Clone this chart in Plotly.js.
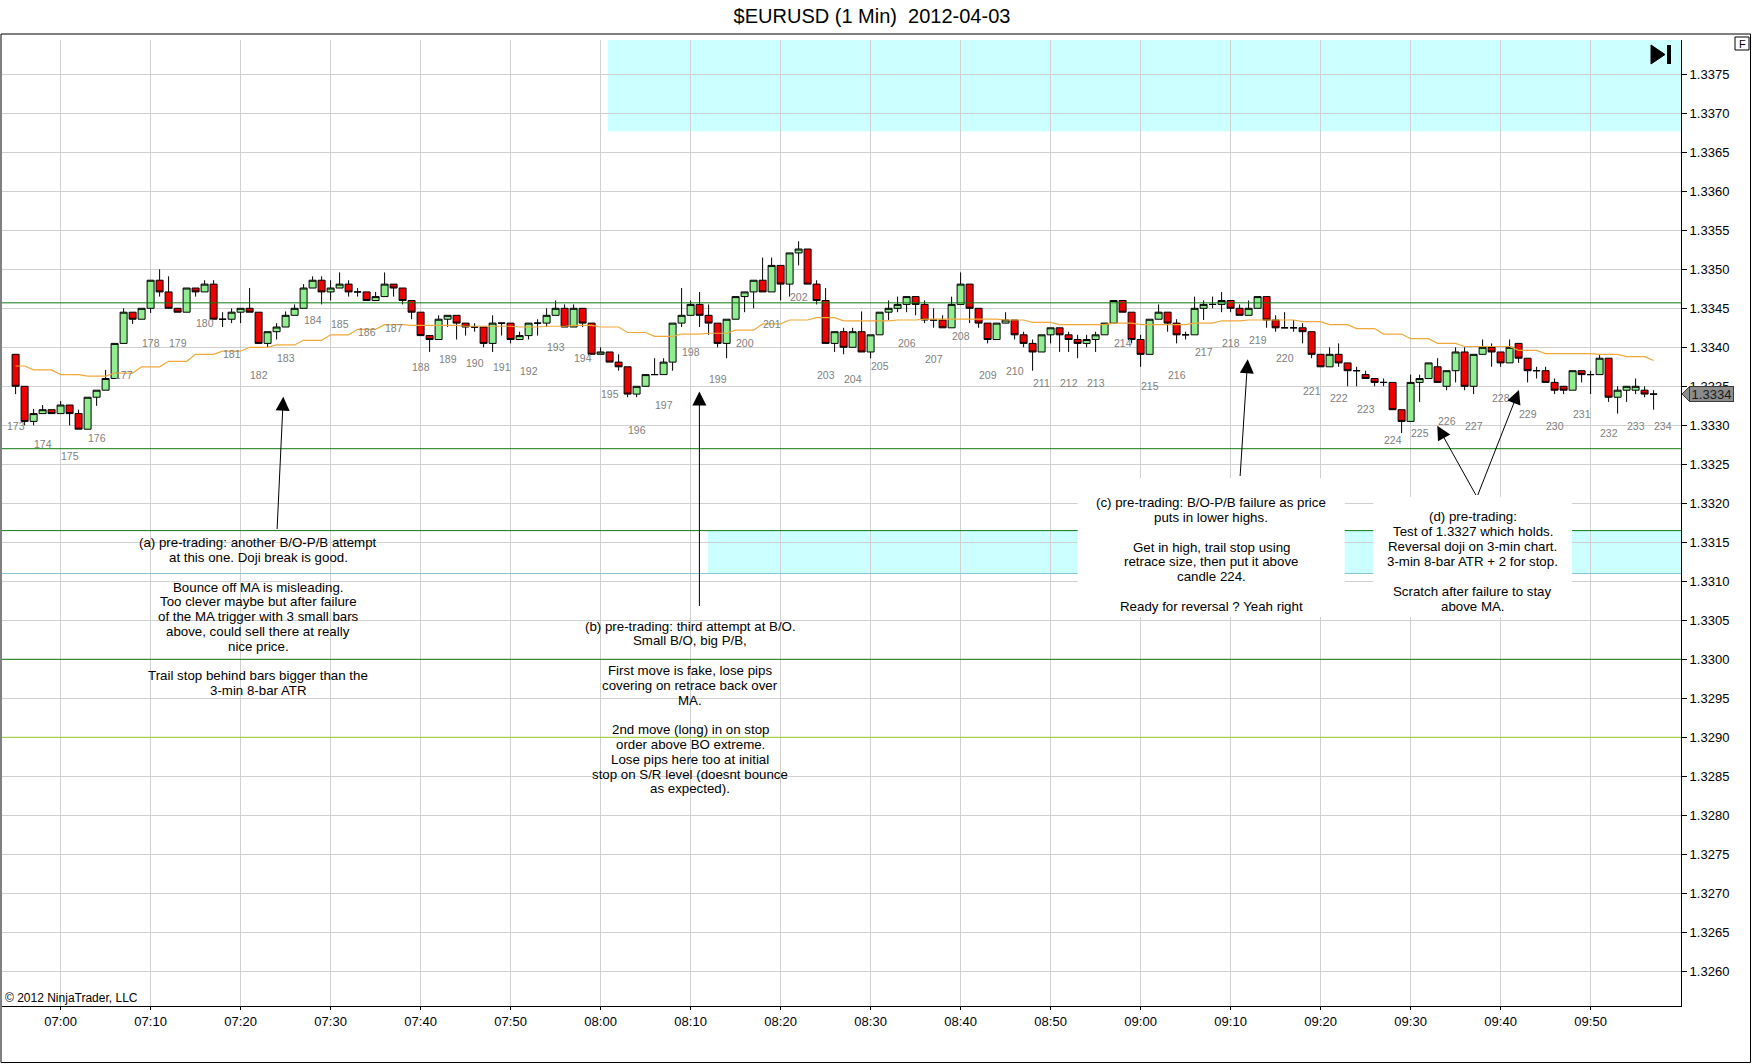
<!DOCTYPE html>
<html><head><meta charset="utf-8">
<script src="https://cdn.plot.ly/plotly-3.0.1.min.js"></script>
<style>html,body{margin:0;padding:0;background:#fff}</style>
</head><body><div id="chart" style="width:1752px;height:1064px"></div>
<script>
// ---------- DATA ----------
const firstBarMinute = -5; // 06:55, minutes relative to 07:00
const opens = [
1.33391,1.33350,1.33305,1.33315,1.33320,1.33315,1.33326,1.33315,1.33295,1.33336,
1.33345,1.33360,1.33405,1.33445,1.33436,1.33450,1.33486,1.33471,1.33450,1.33445,
1.33476,1.33471,1.33481,1.33436,1.33436,1.33445,1.33450,1.33445,1.33405,1.33420,
1.33426,1.33441,1.33450,1.33476,1.33486,1.33471,1.33476,1.33481,1.33471,1.33471,
1.33460,1.33465,1.33481,1.33476,1.33460,1.33445,1.33415,1.33410,1.33436,1.33441,
1.33431,1.33426,1.33426,1.33405,1.33431,1.33431,1.33410,1.33415,1.33431,1.33431,
1.33441,1.33450,1.33426,1.33450,1.33431,1.33391,1.33394,1.33381,1.33375,1.33340,
1.33350,1.33365,1.33365,1.33381,1.33431,1.33441,1.33455,1.33441,1.33431,1.33405,
1.33436,1.33465,1.33471,1.33486,1.33471,1.33505,1.33481,1.33521,1.33526,1.33481,
1.33460,1.33405,1.33420,1.33400,1.33420,1.33394,1.33416,1.33445,1.33450,1.33455,
1.33465,1.33455,1.33435,1.33435,1.33425,1.33455,1.33481,1.33450,1.33431,1.33410,
1.33431,1.33435,1.33416,1.33405,1.33394,1.33416,1.33425,1.33416,1.33410,1.33405,
1.33410,1.33416,1.33431,1.33460,1.33445,1.33410,1.33391,1.33436,1.33445,1.33431,
1.33416,1.33416,1.33450,1.33455,1.33455,1.33460,1.33450,1.33441,1.33450,1.33465,
1.33435,1.33425,1.33425,1.33425,1.33420,1.33391,1.33375,1.33391,1.33380,1.33370,
1.33365,1.33360,1.33355,1.33355,1.33320,1.33305,1.33355,1.33360,1.33375,1.33350,
1.33370,1.33394,1.33350,1.33391,1.33400,1.33394,1.33380,1.33405,1.33386,1.33370,
1.33370,1.33355,1.33350,1.33345,1.33370,1.33365,1.33365,1.33386,1.33336,1.33345,
1.33345,1.33345,1.33340];
const highs = [
1.33391,1.33350,1.33321,1.33326,1.33320,1.33331,1.33326,1.33320,1.33336,1.33345,
1.33371,1.33405,1.33450,1.33445,1.33450,1.33486,1.33500,1.33491,1.33450,1.33476,
1.33476,1.33486,1.33486,1.33445,1.33450,1.33450,1.33476,1.33445,1.33420,1.33431,
1.33446,1.33455,1.33481,1.33491,1.33491,1.33486,1.33496,1.33486,1.33476,1.33471,
1.33471,1.33496,1.33481,1.33476,1.33460,1.33445,1.33415,1.33441,1.33441,1.33441,
1.33431,1.33431,1.33426,1.33441,1.33431,1.33431,1.33420,1.33431,1.33436,1.33450,
1.33460,1.33455,1.33455,1.33450,1.33431,1.33400,1.33394,1.33391,1.33375,1.33350,
1.33365,1.33386,1.33386,1.33431,1.33476,1.33460,1.33471,1.33455,1.33431,1.33436,
1.33465,1.33471,1.33486,1.33515,1.33515,1.33505,1.33521,1.33536,1.33526,1.33486,
1.33476,1.33420,1.33425,1.33425,1.33446,1.33416,1.33445,1.33460,1.33465,1.33465,
1.33465,1.33460,1.33450,1.33441,1.33465,1.33496,1.33481,1.33450,1.33431,1.33431,
1.33445,1.33435,1.33420,1.33410,1.33416,1.33425,1.33425,1.33420,1.33416,1.33416,
1.33420,1.33431,1.33460,1.33460,1.33445,1.33416,1.33436,1.33455,1.33445,1.33436,
1.33420,1.33465,1.33460,1.33465,1.33471,1.33460,1.33455,1.33460,1.33465,1.33465,
1.33441,1.33445,1.33435,1.33431,1.33420,1.33391,1.33400,1.33405,1.33380,1.33375,
1.33370,1.33360,1.33360,1.33355,1.33320,1.33365,1.33365,1.33380,1.33386,1.33370,
1.33400,1.33400,1.33391,1.33410,1.33405,1.33394,1.33410,1.33405,1.33386,1.33375,
1.33375,1.33360,1.33350,1.33370,1.33370,1.33370,1.33391,1.33386,1.33350,1.33350,
1.33360,1.33350,1.33345];
const lows = [
1.33340,1.33300,1.33300,1.33315,1.33315,1.33315,1.33300,1.33295,1.33295,1.33325,
1.33345,1.33360,1.33405,1.33430,1.33436,1.33444,1.33465,1.33450,1.33445,1.33445,
1.33465,1.33471,1.33436,1.33426,1.33431,1.33431,1.33445,1.33405,1.33400,1.33410,
1.33426,1.33441,1.33450,1.33476,1.33455,1.33460,1.33476,1.33465,1.33465,1.33460,
1.33460,1.33465,1.33465,1.33455,1.33436,1.33415,1.33394,1.33410,1.33426,1.33410,
1.33415,1.33420,1.33400,1.33394,1.33415,1.33405,1.33410,1.33410,1.33415,1.33426,
1.33441,1.33426,1.33426,1.33426,1.33391,1.33391,1.33381,1.33370,1.33336,1.33336,
1.33350,1.33365,1.33365,1.33370,1.33426,1.33441,1.33426,1.33416,1.33400,1.33386,
1.33436,1.33445,1.33450,1.33471,1.33471,1.33460,1.33465,1.33505,1.33481,1.33455,
1.33405,1.33394,1.33391,1.33400,1.33394,1.33386,1.33416,1.33435,1.33445,1.33445,
1.33441,1.33431,1.33425,1.33425,1.33425,1.33455,1.33431,1.33425,1.33405,1.33410,
1.33431,1.33410,1.33400,1.33370,1.33394,1.33405,1.33394,1.33394,1.33386,1.33400,
1.33394,1.33416,1.33431,1.33445,1.33405,1.33375,1.33391,1.33436,1.33420,1.33405,
1.33410,1.33416,1.33435,1.33450,1.33445,1.33445,1.33441,1.33441,1.33450,1.33425,
1.33420,1.33425,1.33420,1.33405,1.33386,1.33375,1.33375,1.33375,1.33350,1.33350,
1.33360,1.33350,1.33350,1.33320,1.33290,1.33305,1.33330,1.33360,1.33355,1.33345,
1.33355,1.33345,1.33340,1.33391,1.33375,1.33375,1.33380,1.33380,1.33355,1.33360,
1.33355,1.33340,1.33340,1.33345,1.33355,1.33340,1.33365,1.33330,1.33315,1.33330,
1.33340,1.33336,1.33320];
const closes = [
1.33350,1.33305,1.33315,1.33320,1.33315,1.33326,1.33315,1.33295,1.33336,1.33345,
1.33360,1.33405,1.33445,1.33436,1.33450,1.33486,1.33471,1.33450,1.33445,1.33476,
1.33471,1.33481,1.33436,1.33436,1.33445,1.33450,1.33445,1.33405,1.33420,1.33426,
1.33441,1.33450,1.33476,1.33486,1.33471,1.33476,1.33481,1.33471,1.33471,1.33460,
1.33465,1.33481,1.33476,1.33460,1.33445,1.33415,1.33410,1.33436,1.33441,1.33431,
1.33426,1.33426,1.33405,1.33431,1.33431,1.33410,1.33415,1.33431,1.33431,1.33441,
1.33450,1.33426,1.33450,1.33431,1.33391,1.33394,1.33381,1.33375,1.33340,1.33350,
1.33365,1.33365,1.33381,1.33431,1.33441,1.33455,1.33441,1.33431,1.33405,1.33436,
1.33465,1.33471,1.33486,1.33471,1.33505,1.33481,1.33521,1.33526,1.33481,1.33460,
1.33405,1.33420,1.33400,1.33420,1.33394,1.33416,1.33445,1.33450,1.33455,1.33465,
1.33455,1.33435,1.33435,1.33425,1.33455,1.33481,1.33450,1.33431,1.33410,1.33431,
1.33435,1.33416,1.33405,1.33394,1.33416,1.33425,1.33416,1.33410,1.33405,1.33410,
1.33416,1.33431,1.33460,1.33445,1.33410,1.33391,1.33436,1.33445,1.33431,1.33416,
1.33416,1.33450,1.33455,1.33455,1.33460,1.33450,1.33441,1.33450,1.33465,1.33435,
1.33425,1.33425,1.33425,1.33420,1.33391,1.33375,1.33391,1.33380,1.33370,1.33370,
1.33360,1.33355,1.33355,1.33320,1.33305,1.33355,1.33360,1.33380,1.33355,1.33370,
1.33394,1.33350,1.33391,1.33400,1.33394,1.33380,1.33400,1.33386,1.33370,1.33370,
1.33355,1.33345,1.33345,1.33370,1.33365,1.33365,1.33386,1.33336,1.33345,1.33350,
1.33350,1.33340,1.33340];

// 3-minute bar numbers, their label heights and the 3-min moving average
const barNumbers = [];
for (let n = 173; n <= 234; n++) barNumbers.push(n);
const barLabelPrices = [
1.33299,1.33276,1.33261,1.33284,1.33365,1.33405,1.33405,1.33431,1.33391,1.33365,
1.33386,1.33435,1.33430,1.33420,1.33425,1.33375,1.33385,1.33380,1.33375,1.33370,
1.33400,1.33386,1.33340,1.33294,1.33326,1.33394,1.33360,1.33405,1.33430,1.33465,
1.33365,1.33360,1.33376,1.33405,1.33385,1.33415,1.33365,1.33370,1.33354,1.33354,
1.33354,1.33405,1.33350,1.33365,1.33394,1.33405,1.33410,1.33386,1.33344,1.33335,
1.33321,1.33281,1.33290,1.33305,1.33299,1.33335,1.33315,1.33299,1.33315,1.33290,
1.33299,1.33299];
const ma3 = [
1.33376,1.33371,1.33365,1.33363,1.33367,1.33375,1.33382,1.33391,1.33395,1.33400,
1.33403,1.33409,1.33416,1.33423,1.33429,1.33428,1.33428,1.33427,1.33427,1.33426,
1.33427,1.33428,1.33426,1.33419,1.33414,1.33417,1.33418,1.33422,1.33430,1.33435,
1.33438,1.33434,1.33434,1.33435,1.33436,1.33436,1.33436,1.33435,1.33432,1.33429,
1.33429,1.33431,1.33429,1.33429,1.33431,1.33434,1.33435,1.33435,1.33433,1.33429,
1.33424,1.33417,1.33411,1.33405,1.33401,1.33401,1.33396,1.33392,1.33392,1.33391,
1.33388,1.33383];

// drawn horizontal levels
const levelGreenHigh = 1.33457;
const levelTest = 1.3327;
const zoneTop = 1.33165;
const zoneBottom = 1.3311;
const level1300 = 1.3300;
const level1290 = 1.3290;
const upperZoneBottom = 1.33677;
const lastPrice = 1.3334;

const yTickValues = [];
for (let i = 0; i <= 23; i++) yTickValues.push(+(1.3260 + i * 0.0005).toFixed(4));
const xTickLabels = ['07:00','07:10','07:20','07:30','07:40','07:50','08:00','08:10','08:20',
  '08:30','08:40','08:50','09:00','09:10','09:20','09:30','09:40','09:50'];

const titleText = '$EURUSD (1 Min)\u00A0 2012-04-03';
const noteA = ["(a) pre-trading: another B/O-P/B attempt","at this one. Doji break is good.","","Bounce off MA is misleading.","Too clever maybe but after failure","of the MA trigger with 3 small bars","above, could sell there at really","nice price.","","Trail stop behind bars bigger than the","3-min 8-bar ATR"];
const noteB = ["(b) pre-trading: third attempt at B/O.","Small B/O, big P/B,","","First move is fake, lose pips","covering on retrace back over","MA.","","2nd move (long) in on stop","order above BO extreme.","Lose pips here too at initial","stop on S/R level (doesnt bounce","as expected)."];
const noteC = ["(c) pre-trading: B/O-P/B failure as price","puts in lower highs.","","Get in high, trail stop using","retrace size, then put it above","candle 224.","","Ready for reversal ? Yeah right"];
const noteD = ["(d) pre-trading:","Test of 1.3327 which holds.","Reversal doji on 3-min chart.","3-min 8-bar ATR + 2 for stop.","","Scratch after failure to stay","above MA."];

// ---------- LAYOUT HELPERS ----------
const W = 1752, H = 1064;
const L = 2, R = 1681, T = 40, B = 1006;
function pad(n){ return String(n).padStart(2,'0'); }
function timeAt(m){ // minutes relative to 07:00
  let s = 7*3600 + m*60;
  const h = Math.floor(s/3600); s -= h*3600;
  const mi = Math.floor(s/60); s -= mi*60;
  return '2012-04-03 ' + pad(h) + ':' + pad(mi) + ':' + s.toFixed(3).padStart(6,'0');
}
const pxPerMin = 9.0, x0700 = 60.6;
const y1335 = 269.3, pxPerUnit = 78000;
function minAtPx(X){ return (X - x0700)/pxPerMin; }
function priceAtPx(Y){ return 1.3350 - (Y - y1335)/pxPerUnit; }
function px(X){ return (X - L)/(R - L); }
function py(Y){ return (B - Y)/(B - T); }

const times = closes.map((_, i) => timeAt(firstBarMinute + i));
const maY = closes.map((_, i) => ma3[Math.floor((firstBarMinute + i + 6)/3)]);

const xRange = [timeAt(minAtPx(L)), timeAt(minAtPx(R))];
const yRange = [priceAtPx(B), priceAtPx(T)];

const FONT = 'Liberation Sans, Arial, sans-serif';

const traces = [
  {type:'candlestick', x: times, open: opens, high: highs, low: lows, close: closes,
   increasing:{line:{color:'#000000', width:1}, fillcolor:'#90ee90'},
   decreasing:{line:{color:'#000000', width:1}, fillcolor:'#ee0000'},
   whiskerwidth:0, showlegend:false, hoverinfo:'skip'},
  {type:'scatter', mode:'lines', x: times, y: maY, line:{color:'#f2a93b', width:1.2},
   showlegend:false, hoverinfo:'skip'}
];

const shapes = [];
// cyan zones (under grid)
shapes.push({type:'rect', layer:'below', xref:'x', yref:'y', x0: timeAt(minAtPx(607.8)), x1: xRange[1],
  y0: upperZoneBottom, y1: yRange[1], fillcolor:'#ccffff', line:{width:0}});
shapes.push({type:'rect', layer:'below', xref:'x', yref:'y', x0: timeAt(minAtPx(708)), x1: xRange[1],
  y0: zoneBottom, y1: zoneTop, fillcolor:'#ccffff', line:{width:0}});
// white boxes of notes (a),(b): over grid, under the lines
function whiteBox(x0,x1,y0,y1,layer){
  shapes.push({type:'rect', layer: layer, xref:'paper', yref:'paper', x0:px(x0), x1:px(x1), y0:py(y1), y1:py(y0),
    fillcolor:'#ffffff', line:{width:0}});
}
whiteBox(121, 393.5, 531, 698, 'between');
whiteBox(570, 811, 608, 800, 'between');
// horizontal drawn lines
function hline(y, color){
  shapes.push({type:'line', layer:'above', xref:'x', yref:'y', x0:xRange[0], x1:xRange[1], y0:y, y1:y,
    line:{color: color, width:1}});
}
hline(levelGreenHigh, '#117a11');
hline(levelTest, '#117a11');
hline(zoneTop, '#117a11');
hline(zoneBottom, '#86c6d8');
hline(level1300, '#117a11');
hline(level1290, '#9acd32');
// white boxes of notes (c),(d): above the lines
whiteBox(1077.7, 1344.7, 478, 617, 'above');
whiteBox(1373.3, 1571.9, 497, 617, 'above');
// outer frame
shapes.push({type:'rect', layer:'above', xref:'paper', yref:'paper', x0:px(1), x1:px(1750.5), y0:py(1062.5), y1:py(34),
  line:{color:'#000', width:1}, fillcolor:'rgba(0,0,0,0)'});
// last price tag pointer
shapes.push({type:'path', layer:'above', xref:'paper', yref:'paper',
  path:`M${px(1690)},${py(386)} L${px(1682)},${py(394)} L${px(1690)},${py(402)} Z`,
  fillcolor:'#8c8c8c', line:{color:'#3a3a3a', width:1}});
// "go to end" icon
shapes.push({type:'path', layer:'above', xref:'paper', yref:'paper',
  path:`M${px(1651)},${py(45)} L${px(1665)},${py(54.5)} L${px(1651)},${py(64)} Z`,
  fillcolor:'#000', line:{color:'#000', width:1}});
shapes.push({type:'rect', layer:'above', xref:'paper', yref:'paper', x0:px(1667), x1:px(1671), y0:py(64), y1:py(45),
  fillcolor:'#000', line:{width:0}});
// "F" box
shapes.push({type:'rect', layer:'above', xref:'paper', yref:'paper', x0:px(1735), x1:px(1749), y0:py(50), y1:py(37),
  fillcolor:'#fff', line:{color:'#000', width:1}});

const annotations = [];
// bar numbers
barNumbers.forEach((n, k) => {
  annotations.push({xref:'x', yref:'y', x: timeAt(firstBarMinute + 3*k), y: barLabelPrices[k], text: String(n),
    showarrow:false, xanchor:'center', yanchor:'middle', font:{family:FONT, size:10.5, color:'#808080'}});
});
// notes
function note(lines, cx, y0, pitch){
  lines.forEach((t, i) => {
    if (!t) return;
    annotations.push({xref:'paper', yref:'paper', x:px(cx), y:py(y0 + i*pitch), text:t, showarrow:false,
      xanchor:'center', yanchor:'middle', font:{family:FONT, size:13.3, color:'#000'}});
  });
}
note(noteA, 258.2, 542.7, 14.8);
note(noteB, 690.3, 626, 14.8);
note(noteC, 1211.4, 502.7, 14.8);
note(noteD, 1472.6, 516.7, 14.9);
// arrows (tip, tail in screen px)
function arrow(tx, ty, sx, sy){
  annotations.push({xref:'paper', yref:'paper', x:px(tx), y:py(ty), axref:'pixel', ayref:'pixel',
    ax: sx - tx, ay: sy - ty, text:' ', font:{size:1}, showarrow:true, arrowhead:2, arrowsize:2.8,
    arrowwidth:1, arrowcolor:'#000', standoff:0, startstandoff:0});
}
arrow(283.3, 396.7, 277, 531);
arrow(699.4, 391.5, 699.4, 608);
arrow(1247.7, 359.3, 1240, 478);
arrow(1519, 390, 1477, 497);
arrow(1437.3, 425.7, 1477, 497);
// last price tag body (drawn over the axis labels like the reference), F, copyright
annotations.push({xref:'paper', yref:'paper', x:px(1689.5), y:py(394), text: lastPrice.toFixed(4), showarrow:false,
  xanchor:'left', yanchor:'middle', width:41, height:12, borderpad:1, align:'center',
  bgcolor:'#8c8c8c', bordercolor:'#3a3a3a', borderwidth:1,
  font:{family:FONT, size:13, color:'#1a1a1a'}});
annotations.push({xref:'paper', yref:'paper', x:px(1742), y:py(43.5), text:'F', showarrow:false,
  xanchor:'center', yanchor:'middle', font:{family:FONT, size:11, color:'#000'}});
annotations.push({xref:'paper', yref:'paper', x:px(3.4), y:py(997.7), text:'\u00A9 2012 NinjaTrader, LLC', showarrow:false,
  xanchor:'left', yanchor:'middle', font:{family:FONT, size:12, color:'#000'}});

const layout = {
  width: W, height: H,
  margin: {l: L, r: W - R, t: T, b: H - B, pad: 0},
  paper_bgcolor:'#ffffff', plot_bgcolor:'#ffffff',
  font:{family:FONT, size:13, color:'#000'},
  boxgap: 0.12, boxgroupgap: 0.12,
  title:{text: titleText, x: 872/W, xref:'container', xanchor:'center', y: 1 - 16/H, yref:'container', yanchor:'middle',
    font:{family:FONT, size:20, color:'#000'}},
  showlegend:false, hovermode:false,
  xaxis:{type:'date', range:xRange, rangeslider:{visible:false}, tickmode:'array',
    tickvals: xTickLabels.map(t => '2012-04-03 ' + t + ':00'), ticktext: xTickLabels,
    showgrid:true, gridcolor:'#d0d0d0', gridwidth:1,
    showline:true, linecolor:'#000', linewidth:1, ticks:'outside', ticklen:3, tickcolor:'#000',
    tickfont:{family:FONT, size:13, color:'#000'}, zeroline:false, fixedrange:true},
  yaxis:{side:'right', range:yRange, tickmode:'array', tickvals:yTickValues, ticktext: yTickValues.map(v => v.toFixed(4)),
    showgrid:true, gridcolor:'#d0d0d0', gridwidth:1, showline:true, linecolor:'#000', linewidth:1,
    ticks:'outside', ticklen:5, tickcolor:'#000', tickfont:{family:FONT, size:13, color:'#000'},
    zeroline:false, fixedrange:true},
  shapes: shapes, annotations: annotations
};
Plotly.newPlot('chart', traces, layout, {displayModeBar:false, staticPlot:true});
</script>
</body></html>
